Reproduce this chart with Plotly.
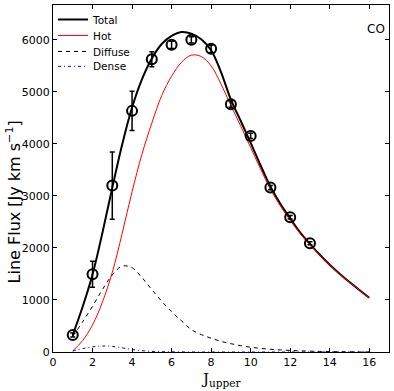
import plotly.graph_objects as go

# observed CO line fluxes
j_obs = [1, 2, 3, 4, 5, 6, 7, 8, 9, 10, 11, 12, 13]
flux_obs = [327, 1494, 3199, 4635, 5628, 5904, 6000, 5827, 4763, 4154, 3160, 2590, 2090]
flux_err = [40, 250, 645, 375, 145, 70, 60, 70, 60, 50, 40, 35, 30]

# model components, sampled every half J
j_model = [1, 1.5, 2, 2.5, 3, 3.5, 4, 4.5, 5, 5.5, 6, 6.5, 7, 7.5, 8, 8.5,
           9, 9.5, 10, 10.5, 11, 11.5, 12, 12.5, 13, 13.5, 14, 14.5, 15, 15.5, 16]
total = [330, 870, 1490, 2290, 3160, 3990, 4700, 5240, 5640, 5920, 6075, 6150, 6120, 6010, 5800, 5380,
         4850, 4440, 4020, 3590, 3180, 2850, 2570, 2300, 2075, 1870, 1678, 1505, 1344, 1193, 1043]
hot = [20, 220, 520, 960, 1530, 2280, 3080, 3800, 4400, 4930, 5300, 5570, 5705, 5680, 5500, 5150,
       4740, 4340, 3930, 3520, 3130, 2810, 2530, 2280, 2060, 1860, 1670, 1500, 1340, 1190, 1040]
diffuse = [300, 580, 880, 1200, 1480, 1650, 1620, 1430, 1200, 975, 775, 600, 430, 335, 265, 205,
           160, 122, 92, 70, 52, 40, 30, 22, 16, 11, 8, 5, 4, 3, 2]
dense = [20, 65, 98, 115, 108, 80, 48, 25, 12, 6, 3, 2, 1, 0, 0, 0,
         0, 0, 0, 0, 0, 0, 0, 0, 0, 0, 0, 0, 0, 0, 0]

FONT = "DejaVu Sans"

fig = go.Figure()
fig.add_trace(go.Scatter(x=j_model, y=total, name="Total", mode="lines", line_shape="spline",
                         line=dict(color="black", width=2), legend="legend"))
fig.add_trace(go.Scatter(x=j_model, y=hot, name="Hot", mode="lines", line_shape="spline",
                         line=dict(color="red", width=1), legend="legend2"))
fig.add_trace(go.Scatter(x=j_model, y=diffuse, name="Diffuse", mode="lines", line_shape="spline",
                         line=dict(color="black", width=1, dash="4px,4px"), legend="legend3"))
fig.add_trace(go.Scatter(x=j_model, y=dense, name="Dense", mode="lines", line_shape="spline",
                         line=dict(color="blue", width=1, dash="3px,3px,1px,3px"), legend="legend4"))
fig.add_trace(go.Scatter(x=j_obs, y=flux_obs, mode="markers", showlegend=False,
                         marker=dict(symbol="circle-open", size=10, color="black",
                                     line=dict(color="black", width=2)),
                         error_y=dict(type="data", array=flux_err, visible=True,
                                      color="black", thickness=1.5, width=2.5)))

axis_style = dict(showline=True, linecolor="black", linewidth=1, mirror="ticks",
                  ticks="inside", ticklen=4, tickcolor="black", showgrid=False,
                  zeroline=False, automargin=False,
                  tickfont=dict(family=FONT, size=11, color="black"))

fig.update_xaxes(range=[0, 17], tickvals=[0, 2, 4, 6, 8, 10, 12, 14, 16], **axis_style)
fig.update_yaxes(range=[0, 6670], tickvals=[0, 1000, 2000, 3000, 4000, 5000, 6000], **axis_style)

# axis titles
fig.add_annotation(text="Line Flux [Jy km s<sup>\u22121</sup>]", xref="paper", yref="paper",
                   x=-0.118, y=0.432, xanchor="center", yanchor="middle", textangle=-90,
                   showarrow=False, font=dict(family=FONT, size=16, color="black"))
fig.add_annotation(text="J<sub>upper</sub>", xref="paper", yref="paper",
                   x=0.5, y=-0.045, xanchor="center", yanchor="top",
                   showarrow=False, font=dict(family="DejaVu Serif", size=15, color="black"))
fig.add_annotation(text="CO", xref="paper", yref="paper", x=0.995, y=0.93,
                   xanchor="right", yanchor="middle", showarrow=False,
                   font=dict(family=FONT, size=12, color="black"))

leg = dict(x=0.0, xanchor="left", yanchor="top", bgcolor="rgba(0,0,0,0)", borderwidth=0,
           font=dict(family=FONT, size=10.5, color="black"), itemwidth=30)
fig.update_layout(width=394, height=391, margin=dict(l=53, r=5, t=5, b=39),
                  plot_bgcolor="white", paper_bgcolor="white",
                  font=dict(family=FONT, color="black"),
                  legend=dict(y=1.0, **leg), legend2=dict(y=0.954, **leg),
                  legend3=dict(y=0.908, **leg), legend4=dict(y=0.865, **leg))

fig.write_html("out.html", config={"displayModeBar": False},
               post_script="document.body.style.margin='0';")
